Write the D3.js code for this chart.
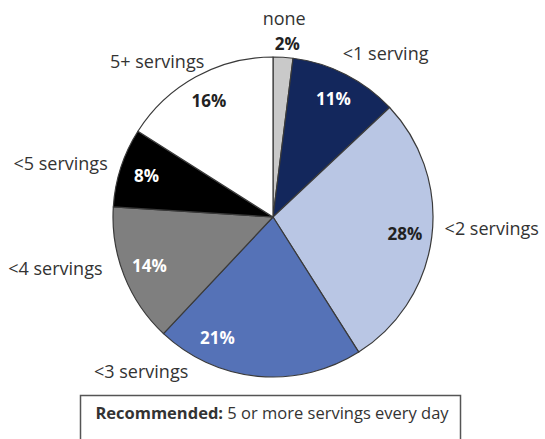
<!DOCTYPE html>
<html>
<head>
<meta charset="utf-8">
<script src="https://cdn.jsdelivr.net/npm/d3@7"></script>
<style>
    body { margin: 0; background: #fff; }
    svg text { font-family: "Open Sans", "Noto Sans", sans-serif; }
</style>
</head>
<body>
<div id="chart"></div>
<script>
(function () {
    "use strict";

    var categories = ['none', '<1 serving', '<2 servings', '<3 servings', '<4 servings', '<5 servings', '5+ servings'];
    var values = [2, 11, 28, 21, 14, 8, 16];
    var colors = ['#c9c9c9', '#13275c', '#b9c6e4', '#5572b7', '#7f7f7f', '#000000', '#ffffff'];
    var pctColors = ['#222', '#fff', '#222', '#fff', '#fff', '#fff', '#222'];

    // hand-tuned label nudges (layout only)
    var nameNudge = {
        'none': [0, -14, 'middle'],
        '<1 serving': [-11, 2, 'start'],
        '<2 servings': [-5, -4, 'start'],
        '<3 servings': [-68, -16, 'end'],
        '<4 servings': [-5, -8, 'end'],
        '<5 servings': [4, 8, 'end'],
        '5+ servings': [17, 7, 'end']
    };
    var pctNudge = { '<3 servings': [-43, -12] };

    var config = {
        width: 545, height: 439,
        cx: 273, cy: 217, radius: 160
    };

    var svg = d3.select('#chart').append('svg')
        .attr('width', config.width)
        .attr('height', config.height);

    var data = categories.map(function (c, i) {
        return { name: c, value: values[i], color: colors[i], pctColor: pctColors[i] };
    });

    var pie = d3.pie().sort(null).value(function (d) { return d.value; });
    var arcs = pie(data);

    var arc = d3.arc().innerRadius(0).outerRadius(config.radius);
    var pctArc = d3.arc().innerRadius(133).outerRadius(133);
    var outArc = d3.arc().innerRadius(178).outerRadius(178);

    var g = svg.append('g')
        .attr('transform', 'translate(' + config.cx + ',' + config.cy + ')');

    g.selectAll('path.slice')
        .data(arcs)
        .enter().append('path')
        .attr('class', 'slice')
        .attr('d', arc)
        .attr('fill', function (d) { return d.data.color; })
        .attr('stroke', '#3a3a3a')
        .attr('stroke-width', 1.2)
        .attr('stroke-linejoin', 'round');

    // percent labels
    g.selectAll('text.pct')
        .data(arcs)
        .enter().append('text')
        .attr('class', 'pct')
        .attr('transform', function (d) {
            var p;
            if (d.data.value < 5) {
                p = outArc.centroid(d);
                return 'translate(' + (p[0] + 3) + ',' + (p[1] + 11) + ')';
            }
            p = pctArc.centroid(d);
            var n = pctNudge[d.data.name] || [0, 0];
            return 'translate(' + (p[0] + n[0]) + ',' + (p[1] + n[1]) + ')';
        })
        .attr('dy', function (d) { return d.data.value < 5 ? 0 : '0.36em'; })
        .attr('text-anchor', 'middle')
        .attr('font-size', 17)
        .attr('font-weight', 'bold')
        .attr('fill', function (d) { return d.data.value < 5 ? '#222' : d.data.pctColor; })
        .text(function (d) { return d.data.value + '%'; });

    // category labels
    g.selectAll('text.name')
        .data(arcs)
        .enter().append('text')
        .attr('class', 'name')
        .attr('transform', function (d) {
            var p = outArc.centroid(d);
            var n = nameNudge[d.data.name];
            return 'translate(' + (p[0] + n[0]) + ',' + (p[1] + n[1]) + ')';
        })
        .attr('text-anchor', function (d) { return nameNudge[d.data.name][2]; })
        .attr('font-size', 18)
        .attr('fill', '#333')
        .text(function (d) { return d.data.name; });

    // recommendation box
    svg.append('rect')
        .attr('x', 80.5).attr('y', 395.5)
        .attr('width', 380).attr('height', 60)
        .attr('fill', '#fff')
        .attr('stroke', '#555')
        .attr('stroke-width', 1.5);

    var note = svg.append('text')
        .attr('x', 272).attr('y', 419)
        .attr('text-anchor', 'middle')
        .attr('font-size', 16.5)
        .attr('fill', '#333');
    note.append('tspan').attr('font-weight', 'bold').text('Recommended:');
    note.append('tspan').text(' 5 or more servings every day');
})();
</script>
</body>
</html>
